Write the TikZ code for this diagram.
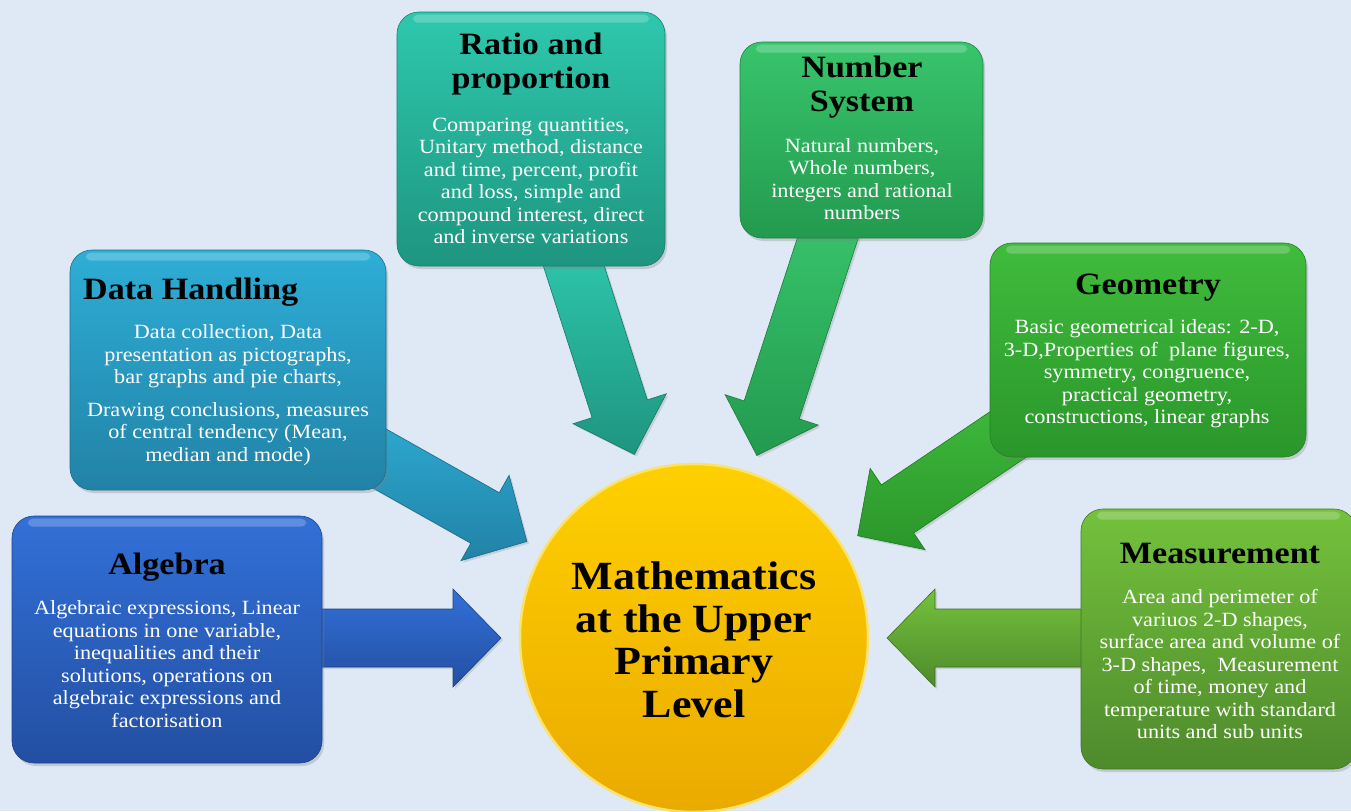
\documentclass[tikz,border=0pt]{standalone}
\usepackage{fontspec}
\setmainfont[FakeStretch=1.1]{Liberation Serif}
\usetikzlibrary{calc,shadows}
\definecolor{bgc}{HTML}{DEE9F5}
\definecolor{ratioTop}{HTML}{2EC8AE}\definecolor{ratioBot}{HTML}{1E9580}
\definecolor{numTop}{HTML}{38C56C}\definecolor{numBot}{HTML}{239A4E}
\definecolor{dataTop}{HTML}{2EAED6}\definecolor{dataBot}{HTML}{2282A6}
\definecolor{geoTop}{HTML}{40BC3C}\definecolor{geoBot}{HTML}{2A962B}
\definecolor{algTop}{HTML}{3270D8}\definecolor{algBot}{HTML}{234FA2}
\definecolor{measTop}{HTML}{74C23C}\definecolor{measBot}{HTML}{4E8A2C}
\definecolor{circTop}{HTML}{FFD000}\definecolor{circBot}{HTML}{EAAA00}
\newcommand\fatarrow[4]{%
  \path ($(#2)!48pt!(#1)$) coordinate (hb);
  \path[top color=#3,bottom color=#4,draw=#4!80!black,line width=0.6pt,
        drop shadow={opacity=0.25,shadow xshift=2pt,shadow yshift=-2pt}]
    ($(#1)!29pt!90:(#2)$) -- ($(hb)!29pt!90:(#2)$) -- ($(hb)!49pt!90:(#2)$)
    -- (#2) -- ($(hb)!49pt!-90:(#2)$) -- ($(hb)!29pt!-90:(#2)$)
    -- ($(#1)!29pt!-90:(#2)$) -- cycle;}
\newcommand\gloss[1]{%
  \fill[white,opacity=0.22,rounded corners=5pt]
    ($(#1.north west)+(16,3)$) rectangle ($(#1.north east)+(-16,11)$);}
\begin{document}
\begin{tikzpicture}[x=1pt,y=-1pt,
  box/.style={rounded corners=22pt,inner sep=0pt,draw=#1Bot!85!black,line width=0.6pt,
     top color=#1Top,bottom color=#1Bot,
     drop shadow={opacity=0.3,shadow xshift=2pt,shadow yshift=-3pt}},
  ttl/.style={inner sep=0pt,align=center,font=\fontsize{31}{33.5}\selectfont\bfseries,text=black},
  bdy/.style={inner sep=0pt,align=center,font=\fontsize{20.2}{22.5}\selectfont,text=white}]
\useasboundingbox (0,0) rectangle (1351,811);
\fill[bgc] (0,0) rectangle (1351,811);

% centre
\node[circle,minimum size=348pt,inner sep=0pt,outer sep=19pt,top color=circTop,bottom color=circBot,
      draw={rgb,255:red,250;green,226;blue,110},line width=2.5pt] (c) at (694,638) {};
\node[inner sep=0pt,align=center,font=\fontsize{40}{42.5}\selectfont\bfseries] (ctext) at (694,640)
  {Mathematics\\at the Upper\\Primary\\Level};

% arrow start points
\coordinate (ratS) at (568,248);
\coordinate (numS) at (834,219);
\coordinate (geoS) at (1040,413);
\coordinate (datS) at (320,425);
\coordinate (algS) at (300,638);
\coordinate (meaS) at (1100,638);

\fatarrow{ratS}{c.108.6}{ratioTop}{ratioBot}
\fatarrow{numS}{c.71.9}{numTop}{numBot}
\fatarrow{geoS}{c.32.3}{geoTop}{geoBot}
\fatarrow{datS}{c.150.4}{dataTop}{dataBot}
\fatarrow{algS}{c.180}{algTop}{algBot}
\fatarrow{meaS}{c.0}{measTop}{measBot}

% boxes
\node[box=ratio,minimum width=268pt,minimum height=254pt] (ratio) at (531,139) {};
\node[box=num,minimum width=243pt,minimum height=196pt] (num) at (861.5,140) {};
\node[box=data,minimum width=316pt,minimum height=240pt] (data) at (228,370) {};
\node[box=geo,minimum width=316pt,minimum height=214pt] (geo) at (1148,350) {};
\node[box=alg,minimum width=310pt,minimum height=247pt] (alg) at (167,639.5) {};
\node[box=meas,minimum width=275pt,minimum height=260pt] (meas) at (1218.5,639) {};
\gloss{ratio}\gloss{num}\gloss{data}\gloss{geo}\gloss{alg}\gloss{meas}

% texts
\node[ttl] (ratioT) at (531,64) {Ratio and\\proportion};
\node[bdy] (ratioB) at (531,181) {Comparing quantities,\\Unitary method, distance\\and time, percent, profit\\and loss, simple and\\compound interest, direct\\and inverse variations};
\node[ttl] (numT) at (862,87) {Number\\System};
\node[bdy] (numB) at (862,179) {Natural numbers,\\Whole numbers,\\integers and rational\\numbers};
\node[ttl,anchor=west] (dataT) at (83,292) {Data Handling};
\node[bdy] (dataB) at (228,395) {Data collection, Data\\presentation as pictographs,\\bar graphs and pie charts,\\[10pt]Drawing conclusions, measures\\of central tendency (Mean,\\median and mode)};
\node[ttl] (geoT) at (1148,288) {Geometry};
\node[bdy] (geoB) at (1147,374) {Basic geometrical ideas: 2-D,\\3-D,Properties of\ \ plane figures,\\symmetry, congruence,\\practical geometry,\\constructions, linear graphs};
\node[ttl] (algT) at (167,567) {Algebra};
\node[bdy] (algB) at (167,664) {Algebraic expressions, Linear\\equations in one variable,\\inequalities and their\\solutions, operations on\\algebraic expressions and\\factorisation};
\node[ttl] (measT) at (1220,554) {Measurement};
\node[bdy] (measB) at (1220,664) {Area and perimeter of\\variuos 2-D shapes,\\surface area and volume of\\3-D shapes,\ \ Measurement\\of time, money and\\temperature with standard\\units and sub units};
\end{tikzpicture}
\end{document}
